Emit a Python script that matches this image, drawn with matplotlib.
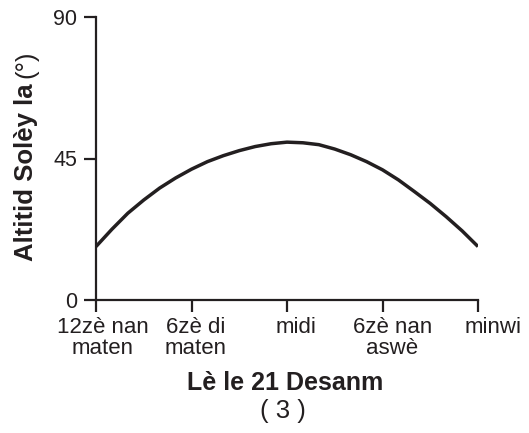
#!/usr/bin/env python
"""Sun altitude over the day, 21 December."""
import matplotlib
matplotlib.use("Agg")
import matplotlib.pyplot as plt
from matplotlib.transforms import ScaledTranslation

plt.rcParams["font.family"] = ["Liberation Sans", "DejaVu Sans"]

INK = "#231f20"

# hour of day (0 = midnight) and sun altitude in degrees
hours = [0, 1, 2, 3, 4, 5, 6, 7, 8, 9, 10, 11, 12,
         13, 14, 15, 16, 17, 18, 19, 20, 21, 22, 23, 24]
altitude = [17.0, 22.5, 27.6, 31.8, 35.6, 38.8, 41.6, 44.0, 45.9, 47.5, 48.8, 49.7, 50.2,
            50.0, 49.4, 48.0, 46.2, 44.0, 41.4, 38.2, 34.5, 30.7, 26.5, 22.0, 17.0]

tick_hours = [0, 6, 12, 18, 24]
tick_labels = ["12zè nan\nmaten", "6zè di\nmaten", "midi", "6zè nan\naswè", "minwi"]
label_shift_px = [7, 4, 9, 10, 15]   # labels sit a bit right of their ticks
y_ticks = [0, 45, 90]

W, H = 529, 433
fig = plt.figure(figsize=(W / 100, H / 100), dpi=100)
ax = fig.add_axes([96 / W, 1 - 300 / H, (478 - 96) / W, (300 - 17) / H])

ax.plot(hours, altitude, color=INK, linewidth=2.5, solid_capstyle="butt")

ax.set_xlim(0, 24)
ax.set_ylim(0, 90)
for side in ("top", "right"):
    ax.spines[side].set_visible(False)
for side in ("left", "bottom"):
    ax.spines[side].set_linewidth(1.6)
    ax.spines[side].set_color(INK)

ax.set_yticks(y_ticks)
ax.set_yticklabels([str(v) for v in y_ticks])
ax.set_xticks(tick_hours)
ax.set_xticklabels(tick_labels, linespacing=1.0)
ax.tick_params(axis="both", direction="out", length=8.5, width=1.6,
               color=INK, labelcolor=INK)
ax.tick_params(axis="x", pad=4, labelsize=16)
ax.tick_params(axis="y", pad=5, labelsize=15.5)

for lab, dx in zip(ax.get_xticklabels(), label_shift_px):
    lab.set_transform(lab.get_transform() + ScaledTranslation(dx / 100, 0, fig.dpi_scale_trans))

# y label: bold words followed by a plain unit
ylab = fig.text(26 / W, 1 - 261 / H, "Altitid Solèy la", rotation=90, fontsize=18.5,
                fontweight="bold", color=INK, ha="center", va="bottom")
fig.canvas.draw()
top_px = ylab.get_window_extent().y1
fig.text(26 / W, (top_px + 5) / H, "(°)", rotation=90, fontsize=18.5,
         color=INK, ha="center", va="bottom")

fig.text(285 / W, 1 - 390 / H, "Lè le 21 Desanm", fontsize=18,
         fontweight="bold", color=INK, ha="center", va="baseline")
fig.text(282.5 / W, 1 - 418 / H, "( 3 )", fontsize=18.5,
         color=INK, ha="center", va="baseline")

fig.savefig("out.png", dpi=100)
